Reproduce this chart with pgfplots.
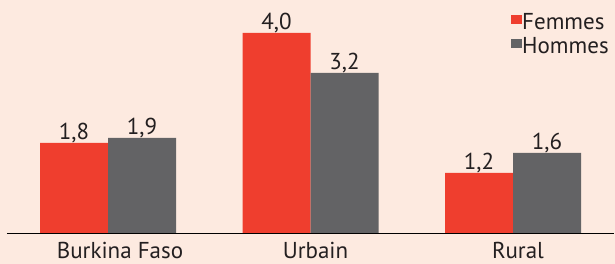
\documentclass[border=0pt]{standalone}
\usepackage{pgfplots}
\pgfplotsset{compat=1.18}
\usepackage{fontspec}
\setmainfont{PT Sans}
\definecolor{bg}{RGB}{253,234,224}
\definecolor{cred}{RGB}{239,62,46}
\definecolor{cgray}{RGB}{99,99,101}
\definecolor{ctext}{RGB}{35,31,32}
\begin{document}
\begin{tikzpicture}
\fill[bg] (0,0) rectangle (615pt,264pt);
\useasboundingbox (0,0) rectangle (615pt,264pt);
\begin{axis}[
  at={(6.75pt,31pt)}, anchor=south west,
  scale only axis, width=607.5pt, height=233pt,
  xmin=-0.5, xmax=2.5, ymin=0, ymax=4.66,
  ybar=0pt, bar width=68pt,
  axis x line=bottom, axis y line=none,
  axis line style={-, black, line width=0.9pt},
  xtick=data, xticklabels={\hspace{14pt}Burkina Faso,Urbain,Rural},
  major tick length=0pt,
  xticklabel style={font=\fontsize{23}{27}\selectfont, text=ctext, anchor=base, yshift=-26pt, xshift=5pt, inner sep=0pt, text depth=0pt},
  clip=false,
  nodes near coords,
  nodes near coords style={font=\fontsize{23}{27}\selectfont, text=ctext, anchor=base, yshift=3.5pt},
  /pgf/number format/.cd, fixed, fixed zerofill, precision=1, use comma, assume math mode=true,
  /pgfplots/.cd,
  legend style={at={(0.8300,0.940)}, anchor=north west, draw=none, fill=none,
    font=\fontsize{23}{27}\selectfont, text=ctext, row sep=5pt, inner sep=0pt,
    nodes={inner sep=0pt, text height=15pt, text depth=4pt},
    /tikz/every even column/.append style={column sep=4pt}},
  legend cell align=left,
  legend image code/.code={\fill[#1] (0pt,0pt) rectangle (11pt,9pt);},
]
\addplot[fill=cred, draw=none] coordinates {(0,1.8) (1,4.0) (2,1.2)};
\addplot[fill=cgray, draw=none] coordinates {(0,1.9) (1,3.2) (2,1.6)};
\legend{Femmes,Hommes}
\end{axis}
\end{tikzpicture}
\end{document}
